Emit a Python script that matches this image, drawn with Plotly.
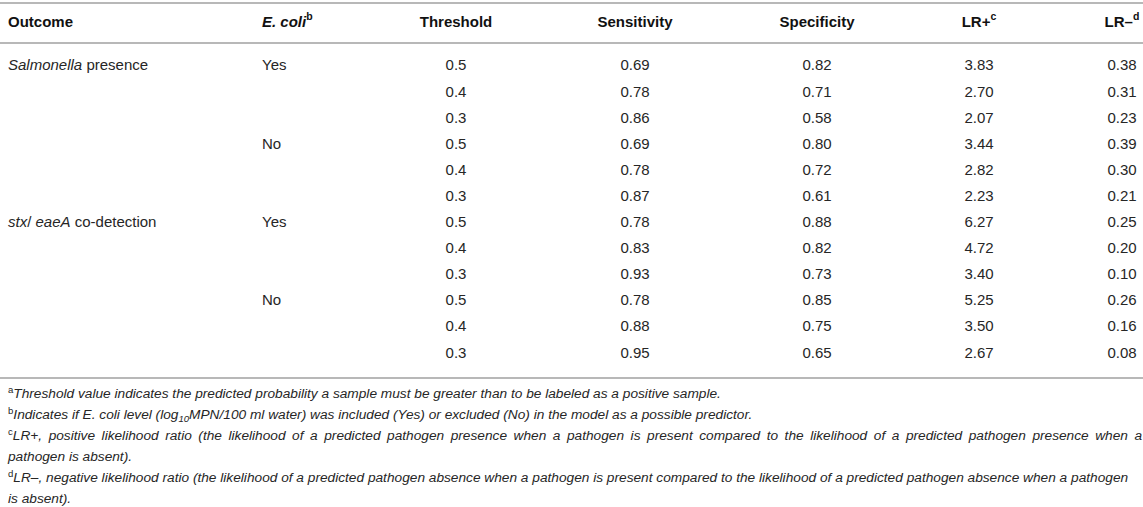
import plotly.graph_objects as go

# table contents
outcomes = ["<i>Salmonella</i> presence", "", "", "", "", "",
            "<i>stx</i>/ <i>eaeA</i> co-detection", "", "", "", "", ""]
ecoli = ["Yes", "", "", "No", "", "", "Yes", "", "", "No", "", ""]
thresholds = [0.5, 0.4, 0.3, 0.5, 0.4, 0.3, 0.5, 0.4, 0.3, 0.5, 0.4, 0.3]
sensitivity = [0.69, 0.78, 0.86, 0.69, 0.78, 0.87, 0.78, 0.83, 0.93, 0.78, 0.88, 0.95]
specificity = [0.82, 0.71, 0.58, 0.80, 0.72, 0.61, 0.88, 0.82, 0.73, 0.85, 0.75, 0.65]
lr_pos = [3.83, 2.70, 2.07, 3.44, 2.82, 2.23, 6.27, 4.72, 3.40, 5.25, 3.50, 2.67]
lr_neg = [0.38, 0.31, 0.23, 0.39, 0.30, 0.21, 0.25, 0.20, 0.10, 0.26, 0.16, 0.08]

headers = ["Outcome", "<i>E. coli</i><sup>b</sup>", "Threshold", "Sensitivity",
           "Specificity", "LR+<sup>c</sup>", "LR–<sup>d</sup>"]

footnotes = [
    "<sup>a</sup><i>Threshold value indicates the predicted probability a sample must be greater than to be labeled as a positive sample.</i>",
    "<sup>b</sup><i>Indicates if E. coli level (log<sub>10</sub>MPN/100 ml water) was included (Yes) or excluded (No) in the model as a possible predictor.</i>",
    "<sup>c</sup><i>LR+, positive likelihood ratio (the likelihood of a predicted pathogen presence when a pathogen is present compared to the likelihood of a predicted pathogen presence when a</i>",
    "<i>pathogen is absent).</i>",
    "<sup>d</sup><i>LR–, negative likelihood ratio (the likelihood of a predicted pathogen absence when a pathogen is present compared to the likelihood of a predicted pathogen absence when a pathogen</i>",
    "<i>is absent).</i>",
]
# footnote lines set justified in the original
justified = [False, False, True, False, False, False]

W, H = 1143, 507
FONT = "Liberation Sans, Arial, Helvetica, sans-serif"
TXT = "#262626"
RULE = "#b8b8b8"

# column anchors (pixels) and alignment
col_x = [8, 262, 456, 635, 817, 979, 1122]
col_pos = ["middle right", "middle right", "middle center", "middle center",
           "middle center", "middle center", "middle center"]

header_y = 23
row0, row_step = 66.7, 26.1
foot0, foot_step = 395, 21

columns = [
    outcomes,
    ecoli,
    [f"{v:.1f}" for v in thresholds],
    [f"{v:.2f}" for v in sensitivity],
    [f"{v:.2f}" for v in specificity],
    [f"{v:.2f}" for v in lr_pos],
    [f"{v:.2f}" for v in lr_neg],
]

fig = go.Figure()

for x, pos, head, vals in zip(col_x, col_pos, headers, columns):
    fig.add_trace(go.Scatter(
        x=[x], y=[header_y], text=[f"<b>{head}</b>"], mode="text",
        textposition=pos, textfont=dict(family=FONT, size=15, color="#111"),
        hoverinfo="skip", showlegend=False))
    ys = [row0 + row_step * i for i, v in enumerate(vals) if v]
    fig.add_trace(go.Scatter(
        x=[x] * len(ys), y=ys, text=[v for v in vals if v], mode="text",
        textposition=pos, textfont=dict(family=FONT, size=15, color=TXT),
        hoverinfo="skip", showlegend=False))

# widen word gaps (thin space) on justified lines
foot_text = [t.replace(" ", " \u2009") if j else t
             for t, j in zip(footnotes, justified)]

fig.add_trace(go.Scatter(
    x=[8] * len(foot_text),
    y=[foot0 + foot_step * i for i in range(len(foot_text))],
    text=foot_text, mode="text", textposition="middle right",
    textfont=dict(family=FONT, size=13.7, color=TXT),
    hoverinfo="skip", showlegend=False))

# horizontal rules
for y in [3, 43, 378]:
    fig.add_shape(type="line", x0=0, x1=W, y0=y, y1=y,
                  line=dict(color=RULE, width=2))

fig.update_layout(
    width=W, height=H,
    margin=dict(l=0, r=0, t=0, b=0),
    paper_bgcolor="white", plot_bgcolor="white",
    xaxis=dict(range=[0, W], visible=False, fixedrange=True),
    yaxis=dict(range=[H, 0], visible=False, fixedrange=True),
)

fig.write_html("out.html", config={"displayModeBar": False},
               post_script="document.body.style.margin='0px';")
